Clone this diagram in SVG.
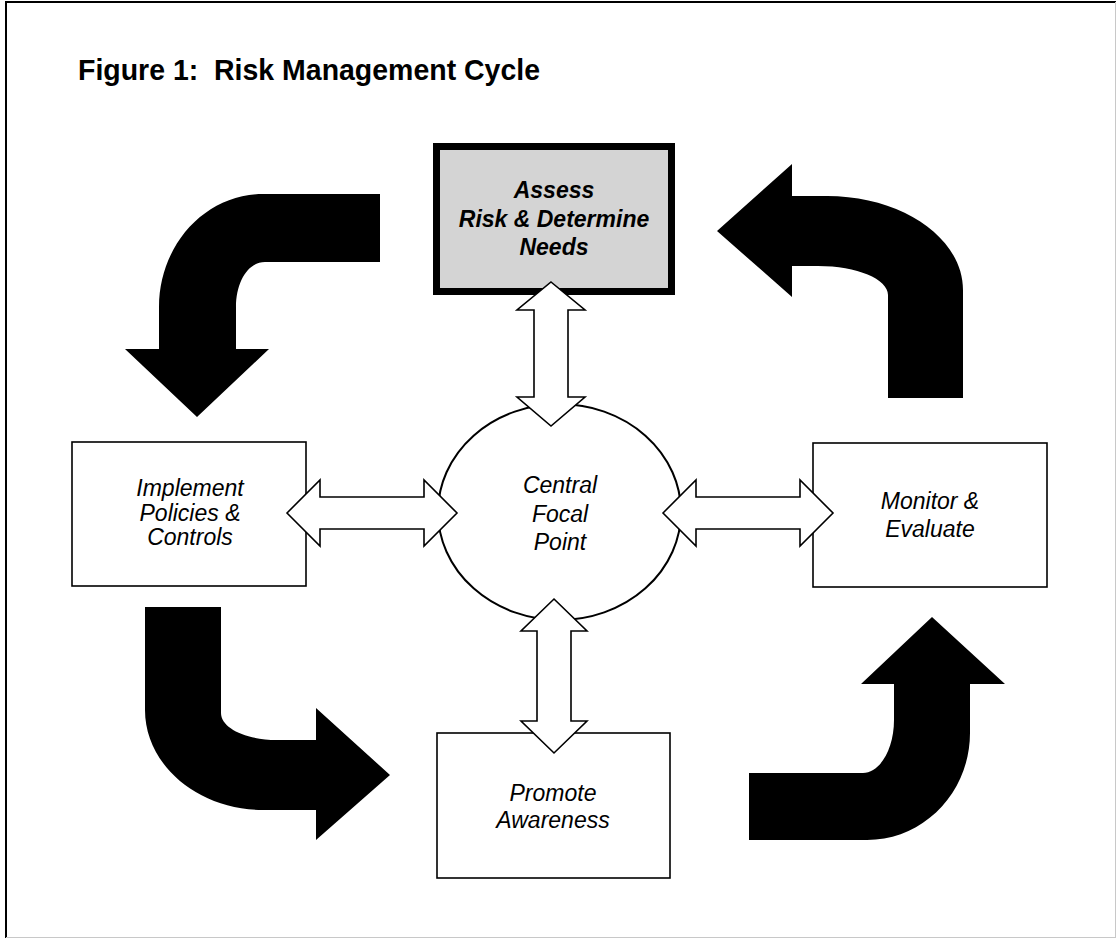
<svg xmlns="http://www.w3.org/2000/svg" width="1116" height="938" viewBox="0 0 1116 938">
<style>
.t{font-family:"Liberation Sans",Arial,sans-serif;font-size:23px;font-style:italic;fill:#000;text-anchor:middle}
.b{font-weight:bold}
.box{fill:#fff;stroke:#000;stroke-width:1.6}
.blk{fill:#000;stroke:none}
.dbl{fill:#fff;stroke:#000;stroke-width:1.6;stroke-linejoin:miter}
</style>
<rect x="0" y="0" width="1116" height="938" fill="#fff"/>
<g id="frame">
<line x1="6" y1="2" x2="1116" y2="2" stroke="#000" stroke-width="2"/>
<line x1="6" y1="1" x2="6" y2="938" stroke="#000" stroke-width="2"/>
<line x1="1115.5" y1="2" x2="1115.5" y2="938" stroke="#c8c8c8" stroke-width="1"/>
<line x1="6" y1="937.5" x2="1116" y2="937.5" stroke="#c8c8c8" stroke-width="1"/>
</g>
<text id="title" x="78" y="80" font-family="'Liberation Sans',Arial,sans-serif" font-size="29.5" font-weight="bold" fill="#000" textLength="462" lengthAdjust="spacingAndGlyphs" xml:space="preserve">Figure 1:  Risk Management Cycle</text>

<g id="central">
<ellipse cx="559.5" cy="512" rx="121.5" ry="108" fill="#fff" stroke="#000" stroke-width="2"/>
<text class="t" x="560" y="493">Central</text>
<text class="t" x="560" y="522">Focal</text>
<text class="t" x="560" y="550">Point</text>
</g>
<g id="assess">
<rect x="436.5" y="146.5" width="235" height="145" fill="#d4d4d4" stroke="#000" stroke-width="7"/>
<text class="t b" x="554" y="198">Assess</text>
<text class="t b" x="554" y="227">Risk &amp; Determine</text>
<text class="t b" x="554" y="255">Needs</text>
</g>
<g id="implement">
<rect class="box" x="72" y="442" width="234" height="144"/>
<text class="t" x="190" y="496">Implement</text>
<text class="t" x="190" y="521">Policies &amp;</text>
<text class="t" x="190" y="545">Controls</text>
</g>
<g id="monitor">
<rect class="box" x="813" y="443" width="234" height="144"/>
<text class="t" x="930" y="509">Monitor &amp;</text>
<text class="t" x="930" y="537">Evaluate</text>
</g>
<g id="promote">
<rect class="box" x="437" y="733" width="233" height="145"/>
<text class="t" x="553" y="801">Promote</text>
<text class="t" x="553" y="828">Awareness</text>
</g>

<g id="connectors">
<path class="blk" d="M380,194 L263,194 C205.6,194 159,244.6 159,307 L159,349 L125,349 L197,417 L269,349 L236,349 L236,307 C236,282 248,262 265,262 L380,262 Z"/>
<path class="blk" d="M717,231 L792,164 L792,196 L827,196 C902,196 963,238 963,290 L963,398 L888,398 L888,295 C888,279 857,266 818,266 L792,266 L792,297 Z"/>
<path class="blk" d="M145,607 L221,607 L221,713 C221,728 246,740 277,740 L316,740 L316,708 L390,775 L316,840 L316,810 L263,810 C198,810 145,765 145,710 Z"/>
<path class="blk" d="M749,773 L863,773 C880,773 894,749 894,720 L894,684 L861,684 L932,617 L1005,684 L970,684 L970,733 C970,792 924,840 867,840 L749,840 Z"/>

<polygon class="dbl" points="287,513 320,480 320,497 424,497 424,480 457,513 424,546 424,529 320,529 320,546"/>
<polygon class="dbl" points="663,513 696,480 696,497 800,497 800,480 833,513 800,546 800,529 696,529 696,546"/>
<polygon class="dbl" points="551,282 585,310 568,310 568,397 585,397 551,426 517,397 534,397 534,310 517,310"/>
<polygon class="dbl" points="554,599 587,631 571,631 571,721 587,721 554,753 521,721 537,721 537,631 521,631"/>
</g>
</svg>
